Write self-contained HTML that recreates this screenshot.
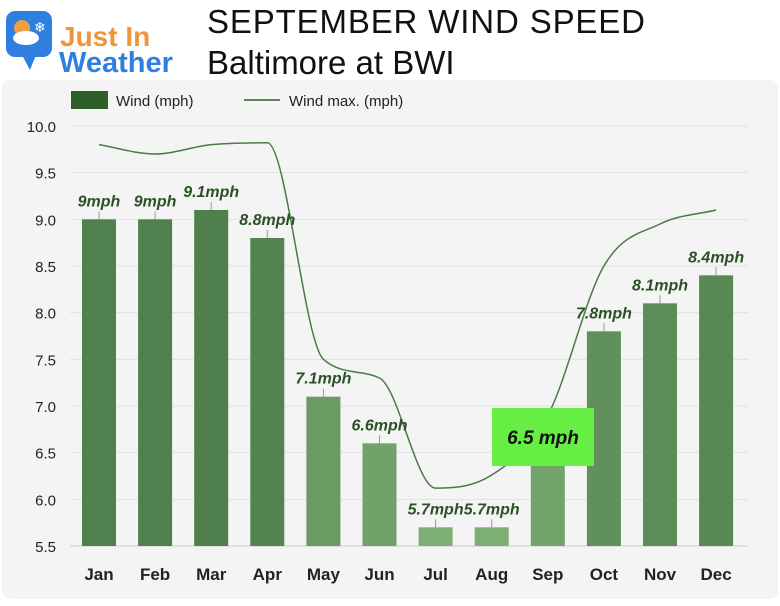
<!DOCTYPE html>
<html><head><meta charset="utf-8"><style>
body{margin:0;background:#fff;width:780px;height:601px;overflow:hidden;font-family:"Liberation Sans",sans-serif}
</style></head><body>
<svg width="780" height="601" viewBox="0 0 780 601" xmlns="http://www.w3.org/2000/svg" font-family="Liberation Sans, sans-serif">
<rect x="2" y="80" width="776" height="519" rx="8" fill="#f4f4f4"/>
<g>
<rect x="6" y="11" width="46" height="46" rx="9" fill="#2f7fe0"/>
<path d="M22 55 L30 70 L36 55 Z" fill="#2f7fe0"/>
<circle cx="22" cy="28" r="8" fill="#f0a040"/>
<ellipse cx="26" cy="38" rx="13" ry="7" fill="#fff"/>
<text x="34" y="32" font-size="14" fill="#fff">❄</text>
<text x="60" y="46" font-size="28" font-weight="bold" fill="#f0953a">Just In</text>
<text x="59" y="72" font-size="29" font-weight="bold" fill="#2f7fe0">Weather</text>
</g>
<text x="207" y="33" font-size="33" fill="#111" textLength="438">SEPTEMBER WIND SPEED</text>
<text x="207" y="74" font-size="33" fill="#111">Baltimore at BWI</text>
<g>
<rect x="71" y="91" width="37" height="18" fill="#2e5e2a"/>
<text x="116" y="106" font-size="15" fill="#222">Wind (mph)</text>
<line x1="244" y1="100" x2="280" y2="100" stroke="#2e5e2a" stroke-width="1.5"/>
<text x="289" y="106" font-size="15" fill="#222">Wind max. (mph)</text>
</g>
<g id="grid"></g><g id="bars"></g><g id="line"></g><g id="labels"></g>
<g>
<rect x="492" y="408" width="102" height="58" fill="#66ee44"/>
<text x="543" y="444" font-size="19" font-weight="bold" font-style="italic" text-anchor="middle" fill="#111">6.5 mph</text>
</g>
</svg>
<script>
const months=["Jan","Feb","Mar","Apr","May","Jun","Jul","Aug","Sep","Oct","Nov","Dec"];
const wind=[9,9,9.1,8.8,7.1,6.6,5.7,5.7,6.5,7.8,8.1,8.4];
const windLabels=["9mph","9mph","9.1mph","8.8mph","7.1mph","6.6mph","5.7mph","5.7mph","","7.8mph","8.1mph","8.4mph"];
const windMax=[9.8,9.7,9.8,9.82,7.5,7.3,6.12,6.26,6.9,8.5,8.95,9.1];
const yTicks=[5.5,6.0,6.5,7.0,7.5,8.0,8.5,9.0,9.5,10.0];
const NS="http://www.w3.org/2000/svg";
const y=v=>126+(10-v)*93.33;
const x=i=>99+i*56.1;
function mk(t,a,p){const e=document.createElementNS(NS,t);for(const k in a)e.setAttribute(k,a[k]);p.appendChild(e);return e;}
const grid=document.getElementById('grid'),bars=document.getElementById('bars'),line=document.getElementById('line'),labels=document.getElementById('labels');
yTicks.forEach(v=>{
 const l=mk('line',{x1:70,x2:748,y1:y(v),y2:y(v),stroke:v==5.5?'#ccc':'#e2e2e2','stroke-width':1},grid);
 
 
 const t=mk('text',{x:56,y:y(v)+6,'font-size':15,'text-anchor':'end',fill:'#222'},grid);
 t.textContent=v.toFixed(1);
 
 
});
function col(v){const f=Math.max(0,Math.min(1,(v-5.7)/3.4));const a=[0x7d,0xae,0x73],b=[0x4f,0x7f,0x4c];return 'rgb('+a.map((c,i)=>Math.round(c+(b[i]-c)*f)).join(',')+')';}
months.forEach((m,i)=>{
 const r=mk('rect',{x:x(i)-17,y:y(wind[i]),width:34,height:y(5.5)-y(wind[i]),fill:col(wind[i])},bars);
 
 
 const t=mk('text',{x:x(i),y:580,'font-size':17,'font-weight':'bold','text-anchor':'middle',fill:'#222'},labels);
 t.textContent=m;
 
 
 if(windLabels[i]){
  mk('line',{x1:x(i),x2:x(i),y1:y(wind[i]),y2:y(wind[i])-8,stroke:'#999'},labels);
  const v=mk('text',{x:x(i),y:y(wind[i])-13,'font-size':16,'font-weight':'bold','font-style':'italic','text-anchor':'middle',fill:'#2a5226'},labels);
  v.textContent=windLabels[i];
  
  
 }
});
const pts=windMax.map((v,i)=>[x(i),y(v)]);
const n=pts.length,dx=[],sl=[],m=[];
for(let i=0;i<n-1;i++){dx[i]=pts[i+1][0]-pts[i][0];sl[i]=(pts[i+1][1]-pts[i][1])/dx[i];}
m[0]=sl[0];m[n-1]=sl[n-2];
for(let i=1;i<n-1;i++){m[i]=(sl[i-1]*sl[i]<=0)?0:(sl[i-1]+sl[i])/2;}
for(let i=0;i<n-1;i++){if(sl[i]===0){m[i]=m[i+1]=0;continue;}const a=m[i]/sl[i],b=m[i+1]/sl[i],s=a*a+b*b;if(s>9){const t=3/Math.sqrt(s);m[i]=t*a*sl[i];m[i+1]=t*b*sl[i];}}
let d='M'+pts[0][0]+','+pts[0][1];
for(let i=0;i<n-1;i++){const h=dx[i]/3;d+=' C'+(pts[i][0]+h)+','+(pts[i][1]+m[i]*h)+' '+(pts[i+1][0]-h)+','+(pts[i+1][1]-m[i+1]*h)+' '+pts[i+1][0]+','+pts[i+1][1];}
const pl=mk('path',{d:d,fill:'none',stroke:'#4a7a46','stroke-width':1.5},line);


</script>
</body></html>
